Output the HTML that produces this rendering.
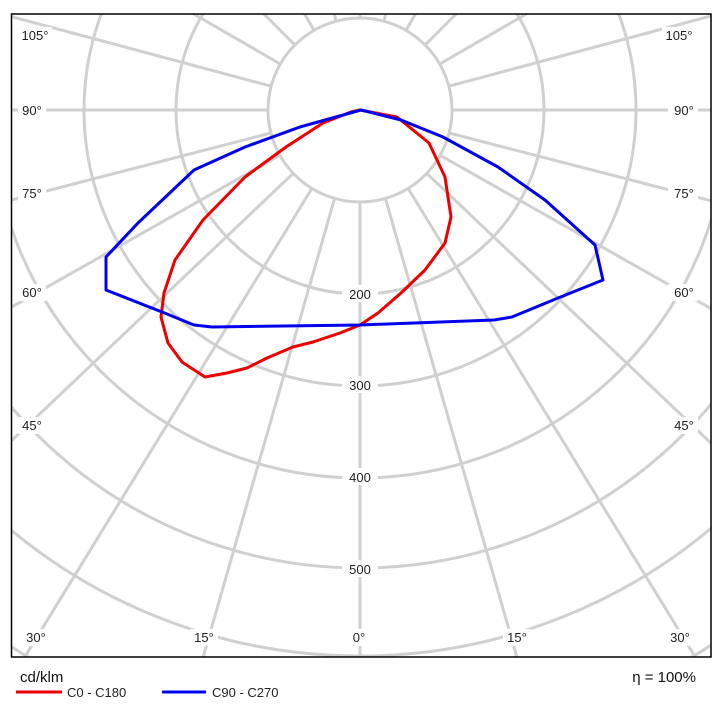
<!DOCTYPE html>
<html><head><meta charset="utf-8"><style>
html,body{margin:0;padding:0;background:#fff;overflow:hidden;width:720px;height:714px;}
svg{display:block;font-family:"Liberation Sans",sans-serif;}
</style></head><body>
<svg width="720" height="714" viewBox="0 0 720 714" xmlns="http://www.w3.org/2000/svg">
<defs><clipPath id="c"><rect x="12" y="14" width="699" height="643"/></clipPath></defs>
<rect width="720" height="714" fill="#fff"/>
<g clip-path="url(#c)" stroke="#d0d0d0" stroke-width="3" fill="none">
<circle cx="360" cy="110" r="92"/>
<circle cx="360" cy="110" r="184"/>
<circle cx="360" cy="110" r="276"/>
<circle cx="360" cy="110" r="368"/>
<circle cx="360" cy="110" r="458"/>
<circle cx="360" cy="110" r="546"/>
<circle cx="360" cy="110" r="640"/>
<path d="M360,202L360,1110 M385.4,198.4L635.6,1071.3 M408.1,188.4L882.5,962.6 M426.7,173.3L1085.4,798.4 M440.1,155.3L1230.4,602.4 M449.1,133L1328.1,360.4 M452,110L1360,110 M448.9,86.2L1325.9,-148.8 M439.7,64L1226,-390 M425.1,44.9L1067.1,-597.1 M406,30.3L860,-756 M383.8,21.1L618.8,-855.9 M360,18L360,-890
M334.6,198.4L84.4,1071.3 M311.9,188.4L-162.5,962.6 M293.3,173.3L-365.4,798.4 M279.9,155.3L-510.4,602.4 M270.9,133L-608.1,360.4 M268,110L-640,110 M271.1,86.2L-605.9,-148.8 M280.3,64L-506,-390 M294.9,44.9L-347.1,-597.1 M314,30.3L-140,-756 M336.2,21.1L101.2,-855.9"/>
</g>
<rect x="11.5" y="14" width="699.5" height="643" fill="none" stroke="#000" stroke-width="1.5"/>
<g font-size="13" fill="#222" text-anchor="middle">
<g fill="#fff" stroke="none">
<rect x="342" y="285" width="36" height="17"/><rect x="342" y="376" width="36" height="17"/>
<rect x="342" y="468" width="36" height="17"/><rect x="342" y="560" width="36" height="17"/>
<rect x="18" y="27" width="34" height="17"/><rect x="18" y="102" width="28" height="17"/>
<rect x="18" y="185" width="28" height="17"/><rect x="18" y="284" width="28" height="17"/>
<rect x="18" y="417" width="28" height="17"/><rect x="20" y="629" width="28" height="17"/>
<rect x="190" y="629" width="28" height="17"/><rect x="346" y="629" width="26" height="17"/>
<rect x="503" y="629" width="28" height="17"/><rect x="665" y="629" width="28" height="17"/>
<rect x="662" y="27" width="36" height="17"/><rect x="668" y="102" width="30" height="17"/>
<rect x="668" y="185" width="30" height="17"/><rect x="668" y="284" width="30" height="17"/>
<rect x="668" y="417" width="30" height="17"/>
</g>
<text x="360" y="299">200</text><text x="360" y="390">300</text>
<text x="360" y="482">400</text><text x="360" y="574">500</text>
<text x="35" y="40">105°</text><text x="32" y="115">90°</text>
<text x="32" y="198">75°</text><text x="32" y="297">60°</text>
<text x="32" y="430">45°</text><text x="36" y="642">30°</text>
<text x="204" y="642">15°</text><text x="359" y="642">0°</text>
<text x="517" y="642">15°</text><text x="680" y="642">30°</text>
<text x="679" y="40">105°</text><text x="684" y="115">90°</text>
<text x="684" y="198">75°</text><text x="684" y="297">60°</text>
<text x="684" y="430">45°</text>
</g>
<g fill="none" stroke-width="3" stroke-linejoin="round">
<path stroke="#ee0000" d="M360,110 L397,117 L429,143 L445,177 L451,217 L445,243 L425,270 L401,293 L378,313 L360,325 L340,333 L313,342 L293,347 L267,358 L247,368 L227,373 L205,377 L182,362 L168,343 L161,317 L164,293 L175,260 L203,220 L245,177 L286,147 L323,123 L351,112 Z"/>
<path stroke="#0000ee" d="M361,110 L401,120 L443,137 L498,167 L545,200 L595,245 L603,280 L558,298 L512,317 L494,320 L360,325 L212,327 L194,325 L162,312 L106,290 L106,257 L138,223 L194,170 L245,147 L300,127 Z"/>
</g>
<g font-size="15" fill="#111">
<text x="20" y="682">cd/klm</text>
<text x="696" y="682" text-anchor="end">η = 100%</text>
</g>
<line x1="16" y1="692" x2="62" y2="692" stroke="#ee0000" stroke-width="3"/>
<line x1="162" y1="692" x2="206" y2="692" stroke="#0000ee" stroke-width="3"/>
<g font-size="13" fill="#222"><text x="67" y="697">C0 - C180</text><text x="212" y="697">C90 - C270</text></g>
</svg>
</body></html>
